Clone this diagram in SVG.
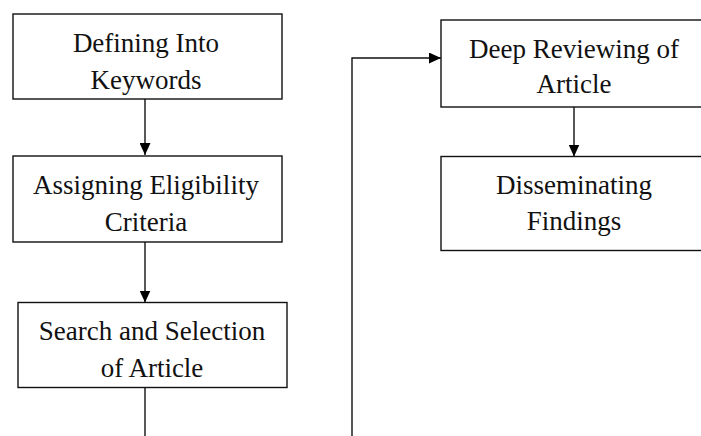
<svg xmlns="http://www.w3.org/2000/svg" width="701" height="436" viewBox="0 0 701 436">
  <defs>
    <marker id="arrow" viewBox="0 0 12 11" refX="12" refY="5.5" markerWidth="12" markerHeight="11" markerUnits="userSpaceOnUse" orient="auto">
      <path d="M0,0 L12,5.5 L0,11 Z" fill="#000"/>
    </marker>
    <style>
      .box { fill: #fff; stroke: #111; stroke-width: 1.4; }
      .label { font-family: "Liberation Serif", "Times New Roman", serif; font-size: 27px; fill: #111; text-anchor: middle; }
      .link { fill: none; stroke: #111; stroke-width: 1.4; }
    </style>
  </defs>
  <rect width="701" height="436" fill="#fff"/>

  <g id="connectors">
    <path class="link" d="M145,99 V155" marker-end="url(#arrow)"/>
    <path class="link" d="M145,242 V302.5" marker-end="url(#arrow)"/>
    <path class="link" d="M145,387.5 V436"/>
    <path class="link" d="M352,436 V58 H441" marker-end="url(#arrow)"/>
    <path class="link" d="M574,107 V156.5" marker-end="url(#arrow)"/>
  </g>

  <g id="defining-keywords">
    <rect class="box" x="13" y="14" width="269" height="85"/>
    <text class="label" x="146" y="52">Defining Into</text>
    <text class="label" x="146" y="89">Keywords</text>
  </g>

  <g id="eligibility-criteria">
    <rect class="box" x="13" y="156" width="269" height="86"/>
    <text class="label" x="146" y="193.5">Assigning Eligibility</text>
    <text class="label" x="146" y="230.5">Criteria</text>
  </g>

  <g id="search-selection">
    <rect class="box" x="18" y="302.5" width="269" height="85"/>
    <text class="label" x="152" y="339.5">Search and Selection</text>
    <text class="label" x="152" y="376.5">of Article</text>
  </g>

  <g id="deep-reviewing">
    <rect class="box" x="441" y="20" width="269" height="87"/>
    <text class="label" x="574" y="57.5">Deep Reviewing of</text>
    <text class="label" x="574" y="93">Article</text>
  </g>

  <g id="disseminating-findings">
    <rect class="box" x="441" y="156.5" width="269" height="94"/>
    <text class="label" x="574" y="193.5">Disseminating</text>
    <text class="label" x="574" y="230">Findings</text>
  </g>
</svg>
